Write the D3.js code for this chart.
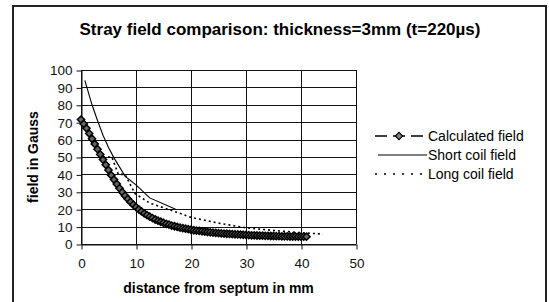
<!DOCTYPE html>
<html><head><meta charset="utf-8">
<script src="https://cdn.jsdelivr.net/npm/d3@7"></script>
<style>body{margin:0;background:#fff;}svg{display:block;font-family:Arial,"Liberation Sans",sans-serif;}</style>
</head><body>
<svg id="c" width="549" height="302"></svg>
<script>
const calcX = [0,0.5,1,1.5,2,2.5,3,3.5,4,4.5,5,5.5,6,6.5,7,7.5,8,8.5,9,9.5,10,10.5,11,11.5,12,12.5,13,13.5,14,14.5,15,15.5,16,16.5,17,17.5,18,18.5,19,19.5,20,20.5,21,21.5,22,22.5,23,23.5,24,24.5,25,25.5,26,26.5,27,27.5,28,28.5,29,29.5,30,30.5,31,31.5,32,32.5,33,33.5,34,34.5,35,35.5,36,36.5,37,37.5,38,38.5,39,39.5,40,40.5,41];
const calcV = [71.5,69,66.5,63.5,60.5,57.5,54.5,51.5,48.5,45.5,42.5,39.5,37,34.5,32,29.8,27.8,25.9,24.2,22.6,21.2,19.9,18.7,17.6,16.6,15.7,14.9,14.1,13.4,12.8,12.2,11.6,11.1,10.6,10.2,9.8,9.4,9.1,8.8,8.5,8.2,7.9,7.7,7.5,7.3,7.1,6.9,6.7,6.5,6.4,6.2,6.1,6.0,5.9,5.8,5.7,5.6,5.5,5.4,5.3,5.2,5.1,5.0,5.0,4.9,4.8,4.8,4.7,4.7,4.6,4.6,4.5,4.5,4.4,4.4,4.4,4.3,4.3,4.3,4.2,4.2,4.2,4.2];
const shortX = [0.7,2,3,4,5,6,8,10,12.5,17.2];
const shortV = [94,80,71,62.5,55.5,49.5,39,34,26.5,20];
const longX = [4,5.6,6.8,8,9.8,12.5,17,20,25,30,35,40,44];
const longV = [50,50,40,40,29,23.5,18.7,15.3,12,9.3,7.8,6.5,5.7];
const xTicks = [0,10,20,30,40,50];
const yTicks = [0,10,20,30,40,50,60,70,80,90,100];
const seriesNames = ["Calculated field","Short coil field","Long coil field"];
const titleText = "Stray field comparison: thickness=3mm (t=220\u00b5s)";
const xTitle = "distance from septum in mm";
const yTitle = "field in Gauss";

const svg = d3.select("#c");
const L = 81, R = 356, T = 70, B = 244;
const x = d3.scaleLinear().domain([0,50]).range([L,R]);
const y = d3.scaleLinear().domain([0,100]).range([B,T]);

// frame
svg.append("rect").attr("x",13).attr("y",6).attr("width",533).attr("height",310)
  .attr("fill","none").attr("stroke","#222").attr("stroke-width",2);

// title
svg.append("text").attr("x",280).attr("y",35).attr("text-anchor","middle")
  .attr("font-size",17).attr("font-weight","bold").text(titleText);

// grid
const g = svg.append("g");
g.selectAll("line.h").data(yTicks).join("line")
  .attr("x1",L).attr("x2",R).attr("y1",d=>Math.round(y(d))+0.5).attr("y2",d=>Math.round(y(d))+0.5)
  .attr("stroke","#111").attr("stroke-width",1);
g.selectAll("line.v").data(xTicks).join("line")
  .attr("y1",T).attr("y2",B).attr("x1",d=>Math.round(x(d))+0.5).attr("x2",d=>Math.round(x(d))+0.5)
  .attr("stroke","#111").attr("stroke-width",1);

// axes
const xa = svg.append("g").attr("transform",`translate(0.5,${Math.round(B)+0.5})`)
  .call(d3.axisBottom(x).tickValues(xTicks).tickSize(5).tickPadding(9).tickSizeOuter(0));
const ya = svg.append("g").attr("transform",`translate(${L+0.5},0.5)`)
  .call(d3.axisLeft(y).tickValues(yTicks).tickSize(5).tickPadding(4).tickSizeOuter(0));
[xa,ya].forEach(a=>{a.select(".domain").attr("stroke","#111");a.selectAll(".tick line").attr("stroke","#111");
  a.selectAll("text").attr("font-size",13.5).attr("fill","#111").attr("font-family","Arial,'Liberation Sans',sans-serif");});

svg.append("text").attr("x",(L+R)/2).attr("y",293).attr("text-anchor","middle")
  .attr("font-size",14).attr("font-weight","bold").text(xTitle);
svg.append("text").attr("transform",`translate(38,${(T+B)/2}) rotate(-90)`).attr("text-anchor","middle")
  .attr("font-size",14).attr("font-weight","bold").text(yTitle);

// series
const line = d3.line().x(d=>x(d[0])).y(d=>y(d[1]));
const calc = calcX.map((v,i)=>[v,calcV[i]]);
const shortS = shortX.map((v,i)=>[v,shortV[i]]);
const longS = longX.map((v,i)=>[v,longV[i]]);
const diamond = "M0,-3.6L3.6,0L0,3.6L-3.6,0Z";

svg.append("path").attr("d",line(calc)).attr("fill","none").attr("stroke","#000").attr("stroke-width",1.2).attr("stroke-dasharray","6,4");
svg.append("g").selectAll("path").data(calc).join("path")
  .attr("transform",d=>`translate(${x(d[0])},${y(d[1])})`).attr("d",diamond)
  .attr("fill","#666").attr("stroke","#000").attr("stroke-width",1.5);
svg.append("path").attr("d",line(shortS)).attr("fill","none").attr("stroke","#000").attr("stroke-width",1.1);
svg.append("path").attr("d",line(longS)).attr("fill","none").attr("stroke","#000").attr("stroke-width",1.6).attr("stroke-dasharray","2,3");

// legend
const ly = [136,155,174];
const lg = svg.append("g");
lg.append("line").attr("x1",375).attr("x2",423).attr("y1",ly[0]).attr("y2",ly[0]).attr("stroke","#000").attr("stroke-width",1.5).attr("stroke-dasharray","12,6");
lg.append("path").attr("transform",`translate(399,${ly[0]})`).attr("d",diamond).attr("fill","#888").attr("stroke","#000").attr("stroke-width",1.2);
lg.append("line").attr("x1",378).attr("x2",427).attr("y1",ly[1]).attr("y2",ly[1]).attr("stroke","#000").attr("stroke-width",1.1);
lg.append("line").attr("x1",375).attr("x2",427).attr("y1",ly[2]).attr("y2",ly[2]).attr("stroke","#000").attr("stroke-width",1.6).attr("stroke-dasharray","2,7");
lg.selectAll("text").data(seriesNames).join("text")
  .attr("x",428).attr("y",(d,i)=>ly[i]+5).attr("font-size",14).text(d=>d);
</script>
</body></html>
